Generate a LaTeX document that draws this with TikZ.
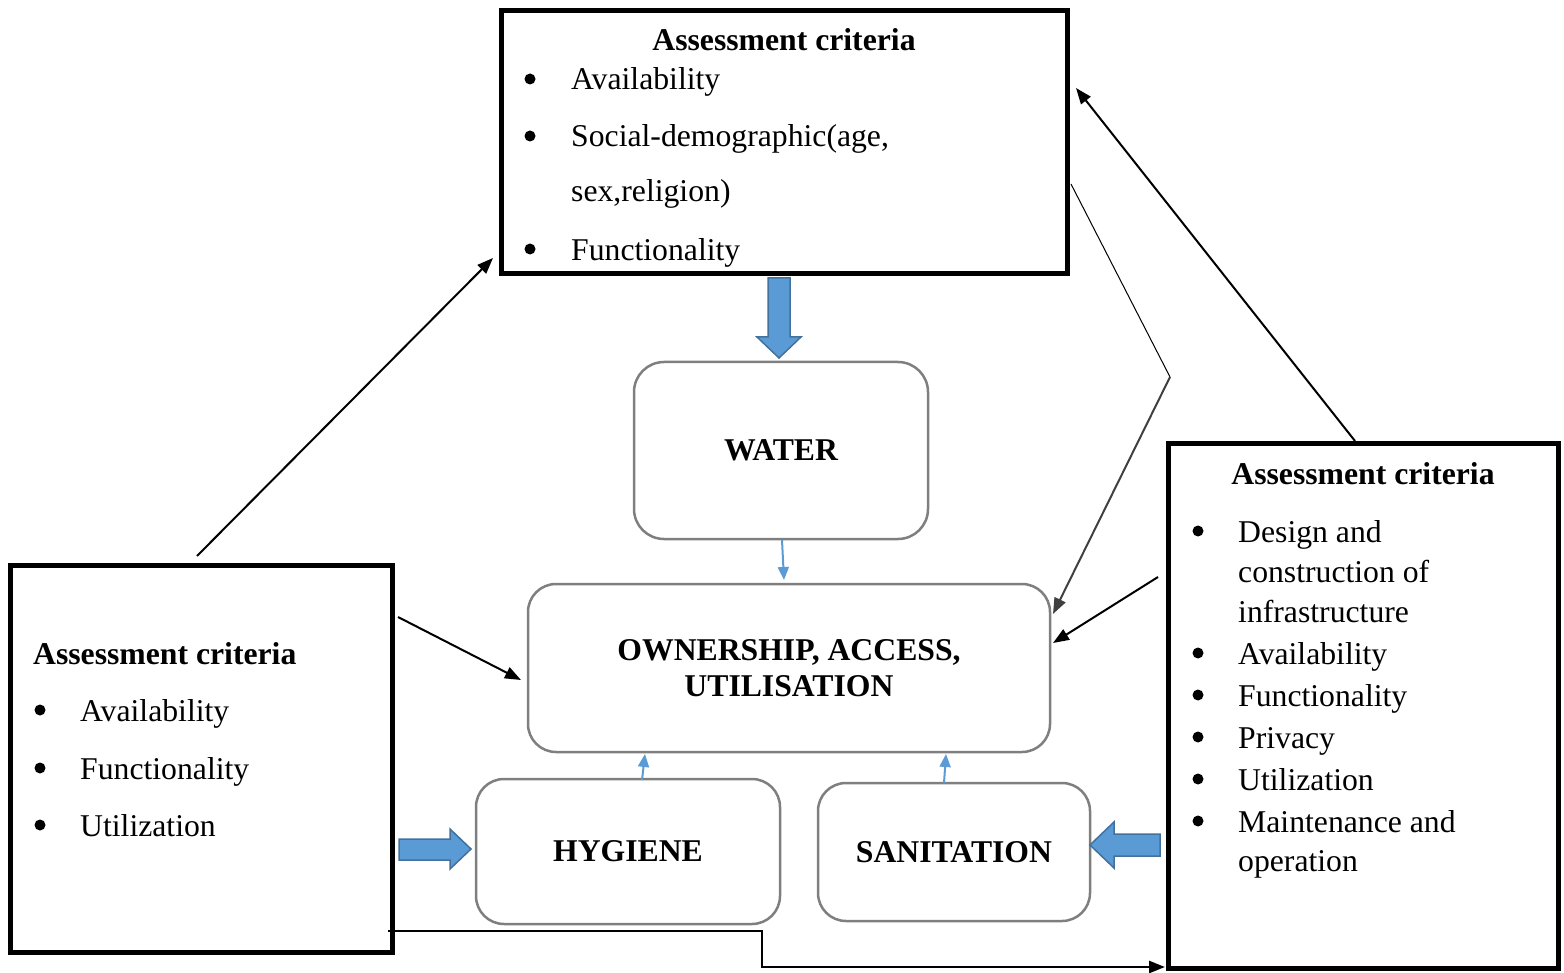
\documentclass[tikz,border=0pt]{standalone}
\usepackage{fontspec}
\setmainfont{Liberation Serif}
\usetikzlibrary{arrows.meta,calc}
\definecolor{boxgray}{HTML}{7F7F7F}
\definecolor{blu}{HTML}{5B9BD5}
\definecolor{bluedge}{HTML}{41719C}
\definecolor{dgray}{HTML}{404040}
\begin{document}
\begin{tikzpicture}[x=1pt,y=-1pt,
 crit/.style={draw, line width=5pt, inner sep=0pt, outer sep=0pt, anchor=north west},
 soft/.style={draw=boxgray, line width=2.5pt, rounded corners=28pt, inner sep=0pt, outer sep=0pt, anchor=center,
   font=\fontsize{31.7}{36}\selectfont\bfseries, align=center},
 txt/.style={font=\fontsize{31.7}{38}\selectfont, inner sep=0pt, anchor=base west},
 hd/.style={font=\fontsize{31.7}{38}\selectfont\bfseries, inner sep=0pt},
 bul/.style={circle, fill, inner sep=0pt, minimum size=11pt},
 arr/.style={line width=2pt, -{Triangle[length=16pt,width=12pt]}},
 barr/.style={blu, line width=2pt, -{Triangle[length=13pt,width=11pt]}},
 block/.style={fill=blu, draw=bluedge, line width=1.5pt, line join=miter}]
\useasboundingbox (0,0) rectangle (1564,973);

% ---- top box text
\node[hd, anchor=base] (th) at (784,51) {Assessment criteria};
\node[bul] (tb1) at (530,79) {};
\node[txt] (tt1) at (571,90) {Availability};
\node[bul] (tb2) at (530,136) {};
\node[txt] (tt2) at (571,147) {Social-demographic(age,};
\node[txt] (tt3) at (571,202) {sex,religion)};
\node[bul] (tb3) at (530,249) {};
\node[txt] (tt4) at (571,261) {Functionality};

% ---- left box text
\node[hd, anchor=base west] (lh) at (33,664) {Assessment criteria};
\node[bul] (lb1) at (40,710) {};
\node[txt] (lt1) at (80,721) {Availability};
\node[bul] (lb2) at (40,768) {};
\node[txt] (lt2) at (80,779) {Functionality};
\node[bul] (lb3) at (40,825) {};
\node[txt] (lt3) at (80,836) {Utilization};

% ---- right box text
\node[hd, anchor=base] (rh) at (1363,485) {Assessment criteria};
\node[bul] (rb1) at (1198,531) {};
\node[txt] (rt1) at (1238,542) {Design and};
\node[txt] (rt2) at (1238,582) {construction of};
\node[txt] (rt3) at (1238,622) {infrastructure};
\node[bul] (rb2) at (1198,653) {};
\node[txt] (rt4) at (1238,664) {Availability};
\node[bul] (rb3) at (1198,695) {};
\node[txt] (rt5) at (1238,706) {Functionality};
\node[bul] (rb4) at (1198,737) {};
\node[txt] (rt6) at (1238,748) {Privacy};
\node[bul] (rb5) at (1198,779) {};
\node[txt] (rt7) at (1238,790) {Utilization};
\node[bul] (rb6) at (1198,821) {};
\node[txt] (rt8) at (1238,832) {Maintenance and};
\node[txt] (rt9) at (1238,871) {operation};

% ---- thick boxes
\node[crit, minimum width=566pt, minimum height=263pt] (top) at (501.5,10.5) {};
\node[crit, minimum width=382pt, minimum height=387pt] (left) at (10.5,565.5) {};
\node[crit, minimum width=390pt, minimum height=525pt] (right) at (1168.5,443.5) {};

% ---- rounded boxes
\node[soft, minimum width=294pt, minimum height=177pt, rounded corners=30pt] (water) at (781,450.5) {WATER};
\node[soft, minimum width=522pt, minimum height=168pt] (oau) at (789,668) {OWNERSHIP, ACCESS,\\UTILISATION};
\node[soft, minimum width=304pt, minimum height=145pt] (hyg) at (628,851.5) {HYGIENE};
\node[soft, minimum width=272pt, minimum height=138pt] (san) at (954,852) {SANITATION};

% ---- block arrows
\draw[block] (768,278) -- (790,278) -- (790,337) -- (801,337) -- (779,358) -- (757,337) -- (768,337) -- cycle;
\draw[block] (399,839) -- (450,839) -- (450,829) -- (471,849) -- (450,869) -- (450,860) -- (399,860) -- cycle;
\draw[block] (1160,834) -- (1114,834) -- (1114,822) -- (1090,845) -- (1114,868) -- (1114,856) -- (1160,856) -- cycle;

% ---- thin blue arrows
\coordinate (w1) at (782,540); \coordinate (w2) at (784,580);
\coordinate (h1) at (642,780); \coordinate (h2) at (645,754);
\coordinate (s1) at (944,783); \coordinate (s2) at (946,754);
\draw[barr] (w1) -- (w2);
\draw[barr] (h1) -- (h2);
\draw[barr] (s1) -- (s2);

% ---- black connectors
\coordinate (a1) at (197,556); \coordinate (a2) at (493,258);
\coordinate (b1) at (398,617); \coordinate (b2) at (521,680);
\coordinate (c1) at (1355,441); \coordinate (c2) at (1076,88);
\coordinate (d1) at (1158,577); \coordinate (d2) at (1053,643);
\coordinate (e1) at (1071,184); \coordinate (e2) at (1170,377); \coordinate (e3) at (1053,614);
\coordinate (f1) at (388,931); \coordinate (f2) at (762,931); \coordinate (f3) at (762,967); \coordinate (f4) at (1165,967);
\draw[arr] (a1) -- (a2);
\draw[arr] (b1) -- (b2);
\draw[arr] (c1) -- (c2);
\draw[arr] (d1) -- (d2);
\draw[line width=1pt] (e1) -- (e2);
\draw[arr, dgray] (e2) -- (e3);
\draw[arr, line width=2.5pt] (f1) -- (f2) -- (f3) -- (f4);
\end{tikzpicture}
\end{document}
